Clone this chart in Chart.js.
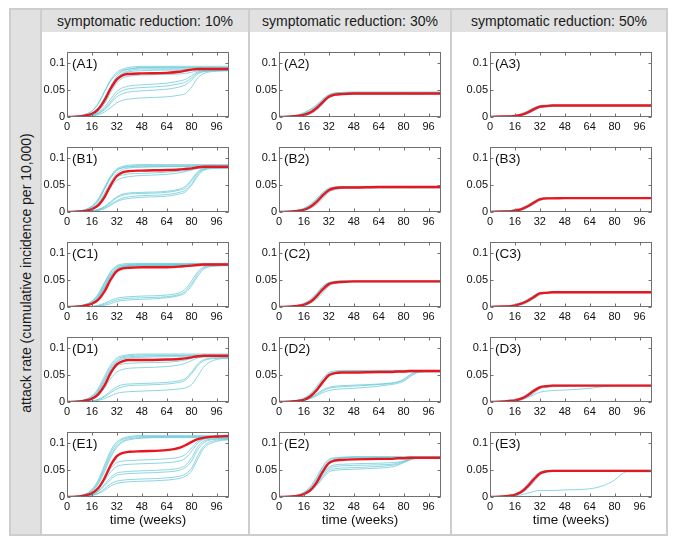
<!DOCTYPE html>
<html>
<head>
<meta charset="utf-8">
<script src="https://cdn.jsdelivr.net/npm/chart.js@4.4.1/dist/chart.umd.min.js"></script>
<style>
  body { margin: 0; background: #fff; font-family: "Liberation Sans", Arial, sans-serif; }
  #fig { position: relative; width: 675px; height: 544px; overflow: hidden; }
  .col { position: absolute; top: 8px; height: 528px; box-sizing: border-box; border: 2px solid #cdcdcd; }
  .head { height: 22px; line-height: 22px; background: #e1e1e1; text-align: center; font-size: 14px; color: #1a1a1a; white-space: nowrap; }
  #side { position: absolute; left: 9px; top: 8px; width: 33px; height: 528px; box-sizing: border-box; border: 2px solid #cdcdcd; background: #e1e1e1; }
  #ylab { position: absolute; left: 25.5px; top: 273px; transform: translate(-50%, -50%) rotate(-90deg); white-space: nowrap; font-size: 14px; color: #1a1a1a; }
  canvas { position: absolute; }
</style>
</head>
<body>
<div id="fig">
  <div id="side"></div>
  <div id="ylab"></div>
</div>
<script>
// weeks where the curves are sampled
const weeks = [0, 8, 12, 16, 20, 24, 28, 32, 36, 40, 48, 64, 72, 76, 80, 84, 88, 96, 104]
const xTicks = [0, 16, 32, 48, 64, 80, 96]
const yTicks = [0, 0.05, 0.1]
const columnTitles = ["symptomatic reduction: 10%", "symptomatic reduction: 30%", "symptomatic reduction: 50%"]
const rowTags = ["A", "B", "C", "D", "E"]
const yLabel = "attack rate (cumulative incidence per 10,000)"
const xLabel = "time (weeks)"

// column 1
const redA1 = [0,.001,.003,.006,.014,.03,.052,.069,.077,.079,.08,.081,.083,.085,.087,.088,.088,.088,.088]
const cyanA1 = [
  [0,.002,.005,.011,.025,.047,.068,.082,.088,.091,.093,.093,.093,.093,.093,.093,.093,.093,.093],
  [0,.001,.003,.007,.016,.035,.056,.075,.084,.088,.091,.091,.091,.091,.091,.091,.091,.091,.091],
  [0,.002,.005,.011,.024,.045,.066,.079,.086,.088,.09,.09,.09,.09,.09,.09,.09,.09,.09],
  [0,.001,.003,.007,.016,.033,.055,.072,.081,.085,.088,.088,.088,.088,.088,.088,.088,.088,.088],
  [0,.001,.003,.007,.015,.032,.053,.07,.079,.083,.085,.086,.086,.087,.087,.088,.088,.088,.088],
  [0,.001,.002,.005,.011,.024,.045,.063,.072,.075,.077,.078,.079,.08,.082,.085,.086,.087,.087],
  [0,.001,.002,.004,.009,.018,.033,.047,.054,.057,.059,.062,.066,.069,.076,.083,.085,.086,.086],
  [0,0,.001,.003,.007,.015,.028,.042,.049,.052,.054,.057,.061,.064,.072,.081,.084,.085,.086],
  [0,0,.001,.003,.006,.013,.025,.037,.043,.046,.048,.051,.055,.059,.068,.079,.083,.085,.085],
  [0,0,.001,.002,.004,.009,.017,.026,.031,.033,.035,.037,.04,.043,.055,.072,.08,.084,.085]
]
const redB1 = [0,.001,.002,.005,.012,.027,.049,.066,.073,.075,.076,.077,.078,.079,.08,.082,.083,.083,.083]
const cyanB1 = [
  [0,.002,.005,.011,.024,.045,.066,.079,.084,.086,.087,.087,.087,.087,.087,.087,.087,.087,.087],
  [0,.001,.004,.009,.02,.041,.062,.076,.082,.084,.085,.085,.085,.085,.085,.085,.085,.085,.085],
  [0,.002,.004,.01,.022,.043,.064,.077,.081,.083,.084,.084,.084,.084,.084,.084,.084,.084,.084],
  [0,.001,.003,.007,.016,.034,.055,.071,.078,.081,.082,.083,.083,.083,.083,.083,.083,.083,.083],
  [0,.001,.003,.007,.015,.031,.05,.064,.068,.07,.071,.073,.075,.076,.078,.081,.082,.082,.082],
  [0,.001,.002,.006,.013,.027,.045,.058,.063,.065,.067,.069,.072,.074,.077,.08,.081,.081,.081],
  [0,0,.001,.002,.005,.01,.019,.028,.033,.035,.036,.038,.042,.047,.06,.074,.08,.082,.082],
  [0,0,.001,.002,.004,.009,.017,.026,.031,.033,.034,.036,.04,.044,.057,.072,.079,.081,.081],
  [0,0,0,.001,.003,.007,.014,.021,.026,.028,.03,.032,.036,.04,.052,.069,.078,.081,.081],
  [0,0,0,.001,.003,.006,.012,.019,.023,.025,.027,.029,.033,.037,.049,.066,.077,.08,.081]
]
const redC1 = [0,.001,.003,.006,.013,.028,.05,.066,.071,.072,.073,.073,.074,.075,.076,.077,.078,.078,.078]
const cyanC1 = [
  [0,.002,.005,.011,.024,.045,.065,.076,.079,.08,.08,.08,.08,.08,.08,.08,.08,.08,.08],
  [0,.002,.005,.01,.022,.043,.063,.074,.077,.078,.079,.079,.079,.079,.079,.079,.079,.079,.079],
  [0,.001,.004,.009,.02,.04,.06,.072,.076,.077,.078,.078,.078,.078,.078,.078,.078,.078,.078],
  [0,.001,.003,.008,.018,.037,.058,.07,.074,.076,.077,.077,.077,.077,.077,.077,.077,.077,.077],
  [0,.001,.003,.007,.016,.034,.055,.068,.073,.075,.076,.076,.076,.076,.076,.076,.076,.076,.076],
  [0,.001,.003,.007,.017,.035,.056,.069,.074,.075,.075,.076,.077,.078,.079,.079,.079,.079,.079],
  [0,0,0,.001,.003,.007,.012,.016,.018,.019,.02,.022,.026,.033,.048,.065,.074,.077,.077],
  [0,0,0,.001,.002,.005,.009,.013,.015,.016,.017,.019,.023,.029,.043,.061,.072,.076,.077],
  [0,0,0,0,.001,.003,.006,.01,.012,.013,.014,.017,.021,.026,.039,.057,.07,.075,.076]
]
const redD1 = [0,.001,.003,.006,.014,.03,.053,.069,.075,.077,.077,.078,.079,.08,.082,.084,.085,.085,.085]
const cyanD1 = [
  [0,.002,.005,.011,.025,.047,.068,.081,.085,.087,.088,.088,.088,.088,.088,.088,.088,.088,.088],
  [0,.002,.004,.01,.022,.043,.064,.078,.083,.085,.086,.086,.086,.086,.086,.086,.086,.086,.086],
  [0,.001,.004,.009,.02,.04,.061,.075,.081,.083,.084,.085,.085,.085,.085,.085,.085,.085,.085],
  [0,.001,.003,.008,.018,.037,.058,.073,.079,.081,.082,.083,.083,.083,.083,.083,.083,.083,.083],
  [0,.001,.003,.007,.015,.032,.054,.066,.07,.071,.072,.073,.075,.077,.08,.083,.084,.084,.084],
  [0,.001,.002,.005,.012,.025,.043,.055,.06,.062,.063,.065,.068,.071,.076,.081,.083,.083,.083],
  [0,0,.001,.002,.005,.011,.02,.028,.032,.033,.034,.036,.039,.043,.055,.07,.078,.081,.082],
  [0,0,.001,.002,.004,.009,.017,.024,.028,.03,.031,.033,.036,.04,.052,.067,.076,.08,.081],
  [0,0,0,.001,.003,.006,.011,.016,.018,.019,.02,.022,.024,.026,.032,.048,.065,.078,.08]
]
const redE1 = [0,.001,.003,.007,.016,.034,.058,.075,.081,.083,.084,.086,.09,.095,.101,.106,.109,.111,.112]
const cyanE1 = [
  [0,.002,.006,.014,.031,.058,.085,.101,.108,.111,.113,.113,.113,.113,.113,.113,.113,.113,.113],
  [0,.002,.005,.012,.028,.054,.081,.098,.106,.109,.111,.111,.111,.111,.111,.111,.111,.111,.111],
  [0,.002,.005,.011,.026,.05,.076,.094,.103,.107,.109,.11,.11,.11,.11,.11,.11,.11,.11],
  [0,.001,.004,.01,.023,.046,.072,.091,.101,.105,.108,.109,.109,.109,.109,.109,.109,.109,.109],
  [0,.001,.003,.007,.016,.033,.052,.063,.066,.067,.068,.07,.073,.078,.09,.102,.107,.109,.11],
  [0,.001,.003,.006,.014,.029,.046,.056,.059,.06,.061,.063,.066,.071,.084,.099,.106,.109,.109],
  [0,.001,.002,.005,.011,.023,.036,.044,.046,.047,.048,.05,.053,.058,.072,.092,.103,.107,.108],
  [0,0,.002,.004,.01,.02,.032,.04,.042,.043,.044,.046,.049,.054,.066,.087,.1,.106,.107],
  [0,0,.001,.003,.007,.015,.024,.029,.031,.032,.033,.035,.038,.042,.053,.076,.094,.104,.106],
  [0,0,.001,.003,.006,.012,.02,.025,.027,.028,.029,.031,.034,.038,.048,.07,.09,.102,.105]
]

// column 2
const redA2 = [0,.001,.002,.004,.008,.016,.027,.037,.041,.042,.043,.043,.043,.043,.043,.043,.043,.043,.043]
const cyanA2 = [
  [0,.002,.004,.008,.014,.022,.033,.041,.044,.045,.045,.045,.045,.045,.045,.045,.045,.045,.045],
  [0,.001,.003,.006,.011,.019,.03,.039,.043,.044,.044,.044,.044,.044,.044,.044,.044,.044,.044],
  [0,.001,.002,.003,.006,.012,.023,.035,.04,.041,.042,.042,.042,.042,.042,.042,.042,.042,.042],
  [0,.001,.003,.007,.013,.021,.031,.04,.044,.045,.046,.046,.046,.046,.046,.046,.046,.046,.046]
]
const redB2 = [0,.001,.002,.004,.009,.018,.03,.04,.044,.045,.045,.046,.046,.046,.046,.046,.046,.046,.046]
const cyanB2 = [
  [0,.001,.003,.007,.014,.024,.036,.044,.046,.047,.047,.047,.047,.047,.047,.047,.047,.047,.047],
  [0,.001,.002,.005,.011,.021,.033,.042,.045,.046,.046,.046,.046,.046,.046,.046,.046,.046,.046],
  [0,.001,.002,.003,.007,.013,.024,.036,.041,.043,.044,.044,.044,.044,.044,.044,.044,.044,.044],
  [0,.001,.003,.006,.012,.022,.034,.042,.044,.045,.045,.045,.045,.045,.045,.045,.045,.045,.045]
]
const redC2 = [0,.001,.002,.004,.009,.019,.032,.042,.045,.046,.047,.047,.047,.047,.047,.047,.047,.047,.047]
const cyanC2 = [
  [0,.001,.003,.007,.014,.025,.038,.045,.047,.048,.048,.048,.048,.048,.048,.048,.048,.048,.048],
  [0,.001,.002,.005,.011,.022,.035,.044,.046,.047,.047,.047,.047,.047,.047,.047,.047,.047,.047],
  [0,.001,.002,.003,.007,.014,.026,.038,.043,.045,.046,.046,.046,.046,.046,.046,.046,.046,.046],
  [0,.001,.003,.006,.012,.023,.036,.044,.046,.047,.047,.047,.047,.047,.047,.047,.047,.047,.047]
]
const redD2 = [0,.001,.002,.004,.01,.021,.036,.049,.053,.054,.054,.055,.055,.056,.056,.057,.057,.057,.057]
const cyanD2 = [
  [0,.001,.003,.007,.015,.028,.043,.054,.057,.058,.058,.058,.058,.058,.058,.058,.058,.058,.058],
  [0,.001,.003,.006,.013,.025,.04,.052,.055,.056,.057,.057,.057,.057,.057,.057,.057,.057,.057],
  [0,.001,.002,.005,.011,.022,.037,.049,.053,.054,.055,.055,.055,.055,.055,.055,.055,.055,.055],
  [0,.001,.002,.004,.008,.015,.022,.027,.029,.03,.031,.033,.035,.037,.042,.05,.055,.057,.057],
  [0,.001,.002,.003,.007,.013,.02,.025,.027,.028,.029,.032,.034,.036,.04,.048,.054,.056,.057],
  [0,0,.001,.003,.006,.011,.017,.021,.023,.024,.025,.029,.032,.034,.038,.046,.053,.056,.056]
]
const redE2 = [0,.001,.002,.005,.012,.026,.046,.062,.067,.068,.069,.07,.07,.071,.071,.072,.072,.072,.072]
const cyanE2 = [
  [0,.001,.004,.009,.019,.036,.056,.069,.072,.073,.074,.074,.074,.074,.074,.074,.074,.074,.074],
  [0,.001,.003,.008,.017,.033,.053,.067,.071,.072,.073,.073,.073,.073,.073,.073,.073,.073,.073],
  [0,.001,.003,.007,.015,.03,.05,.064,.069,.071,.072,.072,.072,.072,.072,.072,.072,.072,.072],
  [0,.001,.003,.006,.013,.026,.043,.055,.059,.06,.061,.062,.063,.064,.066,.07,.072,.072,.072],
  [0,.001,.002,.006,.012,.024,.04,.052,.056,.057,.058,.059,.06,.062,.065,.069,.071,.072,.072],
  [0,.001,.002,.005,.011,.022,.037,.049,.052,.053,.054,.056,.058,.06,.064,.069,.071,.072,.072],
  [0,.001,.002,.005,.01,.02,.034,.046,.049,.05,.051,.053,.055,.058,.063,.068,.071,.072,.072]
]

// column 3
const redA3 = [0,.001,.001,.002,.004,.008,.014,.019,.02,.021,.021,.021,.021,.021,.021,.021,.021,.021,.021]
const cyanA3 = [
  [0,.001,.002,.003,.006,.011,.017,.021,.022,.022,.022,.022,.022,.022,.022,.022,.022,.022,.022],
  [0,0,.001,.002,.003,.006,.011,.017,.019,.02,.02,.02,.02,.02,.02,.02,.02,.02,.02],
  [0,.001,.001,.003,.005,.009,.015,.02,.021,.021,.021,.021,.021,.021,.021,.021,.021,.021,.021]
]
const redB3 = [0,.001,.001,.003,.005,.01,.017,.023,.025,.025,.0255,.0255,.0255,.0255,.0255,.0255,.0255,.0255,.0255]
const cyanB3 = [
  [0,.001,.002,.004,.007,.013,.02,.025,.026,.026,.026,.026,.026,.026,.026,.026,.026,.026,.026],
  [0,0,.001,.002,.004,.008,.014,.021,.024,.025,.025,.025,.025,.025,.025,.025,.025,.025,.025],
  [0,.001,.002,.003,.006,.011,.018,.024,.025,.026,.026,.026,.026,.026,.026,.026,.026,.026,.026]
]
const redC3 = [0,.001,.001,.003,.006,.011,.018,.025,.026,.027,.027,.027,.027,.027,.027,.027,.027,.027,.027]
const cyanC3 = [
  [0,.001,.002,.004,.008,.014,.021,.026,.027,.028,.028,.028,.028,.028,.028,.028,.028,.028,.028],
  [0,0,.001,.002,.004,.008,.015,.022,.025,.026,.026,.026,.026,.026,.026,.026,.026,.026,.026],
  [0,.001,.002,.003,.007,.012,.019,.025,.027,.027,.027,.027,.027,.027,.027,.027,.027,.027,.027]
]
const redD3 = [0,.001,.002,.003,.006,.012,.02,.027,.029,.03,.03,.03,.03,.03,.03,.03,.03,.03,.03]
const cyanD3 = [
  [0,.001,.002,.004,.008,.015,.023,.029,.03,.031,.031,.031,.031,.031,.031,.031,.031,.031,.031],
  [0,0,.001,.002,.004,.009,.016,.024,.027,.028,.029,.03,.03,.03,.03,.03,.03,.03,.03],
  [0,0,.001,.002,.004,.008,.013,.018,.02,.021,.022,.025,.028,.029,.03,.03,.03,.03,.03]
]
const redE3 = [0,.001,.002,.004,.009,.019,.032,.043,.047,.048,.048,.048,.048,.048,.048,.048,.048,.048,.048]
const cyanE3 = [
  [0,.001,.003,.006,.012,.023,.037,.046,.048,.049,.049,.049,.049,.049,.049,.049,.049,.049,.049],
  [0,.001,.002,.003,.007,.015,.027,.04,.045,.047,.047,.047,.047,.047,.047,.047,.047,.047,.047],
  [0,0,.001,.002,.004,.007,.01,.012,.012,.012,.013,.015,.02,.025,.031,.041,.046,.046,.046]
]

const panelSeries = {
  A1: [redA1, cyanA1], B1: [redB1, cyanB1], C1: [redC1, cyanC1], D1: [redD1, cyanD1], E1: [redE1, cyanE1],
  A2: [redA2, cyanA2], B2: [redB2, cyanB2], C2: [redC2, cyanC2], D2: [redD2, cyanD2], E2: [redE2, cyanE2],
  A3: [redA3, cyanA3], B3: [redB3, cyanB3], C3: [redC3, cyanC3], D3: [redD3, cyanD3], E3: [redE3, cyanE3]
}

// page layout
const colBox = [[40, 210], [248, 204], [450, 218]]
const plotLeft = [67, 279, 490]
const plotTop = [49, 144, 239, 334, 429]
const plotW = 162, plotH = 68, yAxisW = 34, padTop = 6, padRight = 8

Chart.defaults.font.family = '"Liberation Sans", Arial, sans-serif'
Chart.defaults.color = "#111"

const fig = document.getElementById("fig")
document.getElementById("ylab").textContent = yLabel

columnTitles.forEach((t, i) => {
  const col = document.createElement("div")
  col.className = "col"
  col.style.left = colBox[i][0] + "px"
  col.style.width = colBox[i][1] + "px"
  const head = document.createElement("div")
  head.className = "head"
  head.textContent = t
  col.appendChild(head)
  fig.insertBefore(col, fig.firstChild)
})

// matlab style box with inward ticks and the panel tag
const boxPlugin = {
  id: "box",
  afterDatasetsDraw(chart, args, opts) {
    const { ctx, chartArea: a, scales: { x, y } } = chart
    const l = Math.round(a.left) + 0.5, r = Math.round(a.right) - 0.5
    const t = Math.round(a.top) + 0.5, b = Math.round(a.bottom) - 0.5
    ctx.save()
    ctx.strokeStyle = "#707070"
    ctx.lineWidth = 1
    ctx.strokeRect(l, t, r - l, b - t)
    ctx.beginPath()
    xTicks.forEach(v => {
      const px = Math.round(x.getPixelForValue(v)) + 0.5
      ctx.moveTo(px, b); ctx.lineTo(px, b - 3)
      ctx.moveTo(px, t); ctx.lineTo(px, t + 3)
    })
    yTicks.forEach(v => {
      const py = Math.round(y.getPixelForValue(v)) + 0.5
      ctx.moveTo(l, py); ctx.lineTo(l + 3, py)
      ctx.moveTo(r, py); ctx.lineTo(r - 3, py)
    })
    ctx.stroke()
    ctx.fillStyle = "#111"
    ctx.font = '13.5px "Liberation Sans", Arial, sans-serif'
    ctx.textBaseline = "middle"
    ctx.fillText(opts.tag, a.left + 5, a.top + 13)
    ctx.restore()
  }
}

rowTags.forEach((tag, row) => {
  for (let c = 0; c < 3; c++) {
    const key = tag + (c + 1)
    const [red, cyan] = panelSeries[key]
    const last = row === rowTags.length - 1
    const xH = last ? 31 : 18

    const canvas = document.createElement("canvas")
    canvas.width = yAxisW + plotW + padRight
    canvas.height = padTop + plotH + xH
    canvas.style.left = (plotLeft[c] - yAxisW) + "px"
    canvas.style.top = (plotTop[row] - padTop) + "px"
    fig.appendChild(canvas)

    const toPts = vals => weeks.map((w, i) => ({ x: w, y: vals[i] }))
    const datasets = [{
      data: toPts(red), borderColor: "#e8161e", borderWidth: 2.4
    }].concat(cyan.map(v => ({
      data: toPts(v), borderColor: "rgba(96,198,212,0.8)", borderWidth: 0.9
    })))

    new Chart(canvas, {
      type: "line",
      data: { datasets },
      options: {
        responsive: false,
        animation: false,
        events: [],
        layout: { padding: { top: padTop, right: padRight, left: 0, bottom: 0 } },
        elements: {
          point: { radius: 0 },
          line: { cubicInterpolationMode: "monotone", fill: false }
        },
        plugins: { legend: { display: false }, tooltip: { enabled: false }, box: { tag: "(" + key + ")" } },
        scales: {
          x: {
            type: "linear", min: 0, max: 104,
            grid: { display: false, drawTicks: false }, border: { display: false },
            afterBuildTicks: s => { s.ticks = xTicks.map(v => ({ value: v })) },
            afterFit: s => { s.height = xH },
            ticks: { padding: 3, maxRotation: 0, autoSkip: false, font: { size: 11 }, callback: v => String(v) },
            title: { display: last, text: xLabel, font: { size: 13.5 }, padding: 0 }
          },
          y: {
            type: "linear", min: 0, max: 0.12,
            grid: { display: false, drawTicks: false }, border: { display: false },
            afterBuildTicks: s => { s.ticks = yTicks.map(v => ({ value: v })) },
            afterFit: s => { s.width = yAxisW },
            ticks: { padding: 2, font: { size: 11 }, callback: v => String(v) }
          }
        }
      },
      plugins: [boxPlugin]
    })
  }
})
</script>
</body>
</html>
